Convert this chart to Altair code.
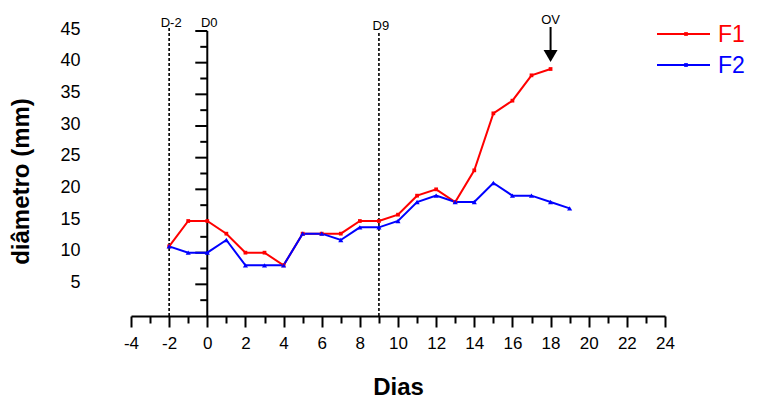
import altair as alt
import pandas as pd

# ---- data ----
dias_f1 = list(range(-2, 19))
f1 = [11, 15, 15, 13, 10, 10, 8, 13, 13, 13, 15, 15, 16, 19, 20, 18, 23, 32, 34, 38, 39]
dias_f2 = list(range(-2, 20))
f2 = [11, 10, 10, 12, 8, 8, 8, 13, 13, 12, 14, 14, 15, 18, 19, 18, 18, 21, 19, 19, 18, 17]
series = ["F1", "F2"]
colors = ["#ff0000", "#0000ff"]

marca_dias = [-2, 0, 9]
marca_textos = ["D-2", "D0", "D9"]
ov_dia = 18

x_ticks = list(range(-4, 25))
y_labels = [5, 10, 15, 20, 25, 30, 35, 40, 45]
y_minor = [2.5 * i for i in range(1, 19)]

# ---- geometry helpers (pixels -> data units) ----
W, H = 534, 285
XMIN, XMAX, YMIN, YMAX = -4, 24, 0, 45
px_x = W / (XMAX - XMIN)
px_y = H / (YMAX - YMIN)


def data_x(px):  # pixel offset from the plot's left edge -> data x
    return XMIN + px / px_x


def data_y(px):  # pixel offset from the plot's top edge -> data y
    return YMAX - px / px_y


df = pd.DataFrame(
    {"dia": dias_f1 + dias_f2,
     "valor": f1 + f2,
     "serie": ["F1"] * len(f1) + ["F2"] * len(f2)}
)

FONT = "Liberation Sans"
xs = alt.Scale(domain=[XMIN, XMAX], nice=False, zero=False)
ys = alt.Scale(domain=[YMIN, YMAX], nice=False, zero=False)

x_axis = alt.Axis(
    values=x_ticks,
    labelExpr="datum.value % 2 === 0 ? '' + datum.value : ''",
    labelOverlap=False, labelFlush=False, grid=False,
    domainColor="black", domainWidth=2,
    tickColor="black", tickWidth=2,
    tickSize={"condition": {"test": "datum.value % 2 === 0", "value": 11}, "value": 7},
    labelFont=FONT, labelFontSize=17, labelColor="black", labelPadding=8,
    titleFont=FONT, titleFontSize=24, titleFontWeight="bold", titleColor="black",
    titleX=267, titleY=78, titleBaseline="alphabetic", titleAlign="center",
)
y_axis = alt.Axis(
    values=y_labels, grid=False, domain=False, ticks=False, tickSize=0,
    labelFont=FONT, labelFontSize=18, labelColor="black", labelPadding=51,
    labelOffset=-2,
    titleFont=FONT, titleFontSize=24, titleFontWeight="bold", titleColor="black",
    titleX=-103, titleY=150, titleAngle=270, titleAlign="center",
    titleBaseline="alphabetic",
)


def X(field):
    return alt.X(field, type="quantitative", scale=xs, axis=x_axis, title="Dias")


def Y(field):
    return alt.Y(field, type="quantitative", scale=ys, axis=y_axis, title="diâmetro (mm)")


color_scale = alt.Scale(domain=series, range=colors)

# dotted day markers
dot_df = pd.DataFrame({"dia": [marca_dias[0], marca_dias[2]], "y0": [0, 0],
                       "topo": [data_y(-4), data_y(1)]})
dots = alt.Chart(dot_df).mark_rule(strokeDash=[3, 2], strokeWidth=1.6, color="black").encode(
    x=X("dia"), y=Y("y0"), y2="topo")

# y axis drawn at x = 0
yline_df = pd.DataFrame({"dia": [0], "y0": [0], "topo": [YMAX]})
yline = alt.Chart(yline_df).mark_rule(strokeWidth=2, color="black").encode(
    x=X("dia"), y=Y("y0"), y2="topo")

tick_df = pd.DataFrame({
    "valor": y_minor,
    "x1": [-(12 if v % 5 == 0 else 7) / px_x for v in y_minor],
    "x0": [0] * len(y_minor),
})
yticks = alt.Chart(tick_df).mark_rule(strokeWidth=2, color="black").encode(
    x=X("x1"), x2="x0", y=Y("valor"))

lines = alt.Chart(df).mark_line(strokeWidth=2).encode(
    x=X("dia"), y=Y("valor"),
    color=alt.Color("serie:N", scale=color_scale, legend=None),
)
pts1 = alt.Chart(df).transform_filter("datum.serie === 'F1'").mark_point(
    shape="square", filled=True, size=14, color=colors[0], opacity=1).encode(
    x=X("dia"), y=Y("valor"))
pts2 = alt.Chart(df).transform_filter("datum.serie === 'F2'").mark_point(
    shape="triangle-up", filled=True, size=26, color=colors[1], opacity=1).encode(
    x=X("dia"), y=Y("valor"))

# legend (top right, outside the plot)
leg_df = pd.DataFrame({
    "serie": series,
    "x1": [data_x(526)] * 2,
    "x2": [data_x(579)] * 2,
    "xm": [data_x(555)] * 2,
    "xt": [data_x(587)] * 2,
    "yl": [data_y(3), data_y(34)],
})
leg_line = alt.Chart(leg_df).mark_rule(strokeWidth=2).encode(
    x=X("x1"), x2="x2", y=Y("yl"),
    color=alt.Color("serie:N", scale=color_scale, legend=None))
leg_dot = alt.Chart(leg_df).mark_point(shape="square", filled=True, size=14, opacity=1).encode(
    x=X("xm"), y=Y("yl"),
    color=alt.Color("serie:N", scale=color_scale, legend=None))
leg_txt = alt.Chart(leg_df).mark_text(
    font=FONT, fontSize=23, align="left", baseline="middle", dy=1).encode(
    x=X("xt"), y=Y("yl"), text="serie",
    color=alt.Color("serie:N", scale=color_scale, legend=None))

lab_df = pd.DataFrame({"dia": marca_dias, "txt": marca_textos,
                       "yt": [data_y(-4), data_y(-4), data_y(-1)]})
labs = alt.Chart(lab_df).mark_text(
    font=FONT, fontSize=13, align="center", baseline="alphabetic", dx=2, color="black").encode(
    x=X("dia"), y=Y("yt"), text="txt")

ov_df = pd.DataFrame({"dia": [ov_dia], "txt": ["OV"], "yt": [data_y(-7)],
                      "s1": [data_y(-4)], "s2": [data_y(19)], "tip": [data_y(25)]})
ov_txt = alt.Chart(ov_df).mark_text(
    font=FONT, fontSize=13, align="center", baseline="alphabetic", color="black").encode(
    x=X("dia"), y=Y("yt"), text="txt")
ov_shaft = alt.Chart(ov_df).mark_rule(strokeWidth=2, color="black").encode(
    x=X("dia"), y=Y("s1"), y2="s2")
ov_head = alt.Chart(ov_df).mark_point(
    shape="triangle-down", filled=True, size=196, color="black", opacity=1).encode(
    x=X("dia"), y=Y("tip"))

chart = alt.layer(
    dots, yline, yticks, lines, pts1, pts2, leg_line, leg_dot, leg_txt,
    labs, ov_txt, ov_shaft, ov_head
).properties(
    width=W, height=H,
    autosize=alt.AutoSizeParams(type="none"),
    padding={"left": 123, "top": 23, "right": 84, "bottom": 82},
).configure(background="white").configure_view(stroke=None)

chart.save("out.html", embed_options={"renderer": "svg", "actions": False})
